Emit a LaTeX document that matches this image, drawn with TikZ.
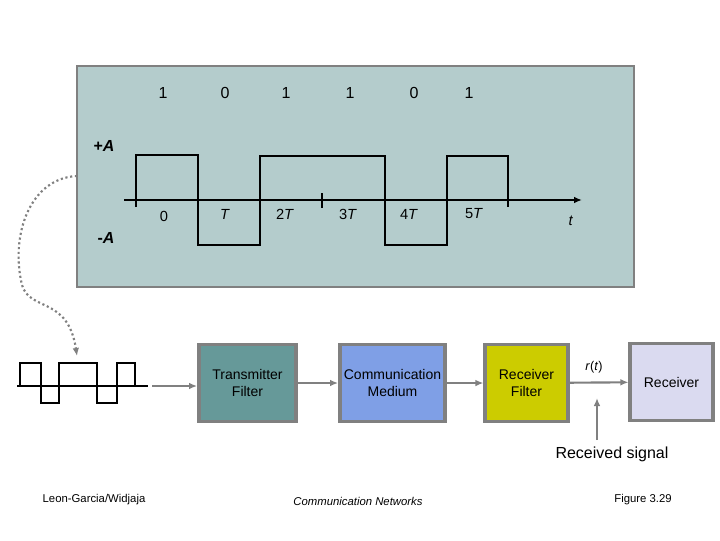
\documentclass[tikz,border=0pt]{standalone}
\usepackage{fontspec}
\setmainfont{Liberation Sans}
\usepackage{tikz}
\usetikzlibrary{arrows.meta}

\definecolor{panelfill}{RGB}{180,204,204}
\definecolor{txfill}{RGB}{102,153,153}
\definecolor{medfill}{RGB}{127,159,230}
\definecolor{rxffill}{RGB}{204,204,0}
\definecolor{rxfill}{RGB}{218,218,240}
\definecolor{linegray}{RGB}{128,128,128}

\begin{document}
\begin{tikzpicture}[
  x=0.75pt,y=-0.75pt,
  line cap=butt,
  line join=miter,
  >={Latex[length=6pt,width=5pt]},
  wave/.style={draw=black,line width=2.2pt},
  conn/.style={draw=linegray,line width=1.6pt,->},
  blk/.style={draw=linegray,line width=2.6pt,minimum height=58pt,
    align=center,inner sep=0pt,font=\fontsize{10.5}{13}\selectfont},
  bit/.style={font=\fontsize{12}{14}\selectfont},
  tlab/.style={font=\fontsize{11}{13}\selectfont},
  foot/.style={font=\fontsize{8.5}{10}\selectfont}
]
\useasboundingbox (0,0) rectangle (720,540);

% upper panel
\draw[draw=linegray,line width=1.4pt,fill=panelfill] (77,66) rectangle (634,287);

% bit values
\foreach \x/\b in {163/1,225/0,286/1,350/1,414/0,469/1}
  \node[bit] (b\x) at (\x,93) {\b};

\node[bit] (pa) at (104,146) {\textbf{+\textit{A}}};
\node[bit] (ma) at (106,238) {\textbf{-\textit{A}}};

% time axis
\coordinate (ax0) at (124,200);
\coordinate (ax1) at (582,200);
\draw[wave,->] (ax0) -- (ax1);
\draw[wave] (322,193) -- (322,208);

% polar NRZ signal
\draw[wave]
  (136,207) -- (136,155) -- (198,155) -- (198,245) -- (260,245)
  -- (260,156) -- (385,156) -- (385,245) -- (447,245)
  -- (447,156) -- (508,156) -- (508,207);

\node[tlab] (t0) at (164,216) {0};
\foreach \x/\l in {225/\textit{T},285/2\textit{T},348/3\textit{T},409/4\textit{T},474/5\textit{T}}
  \node[tlab] (t\x) at (\x,214) {\l};
\node[tlab] (tt) at (571,221) {\textit{t}};

% small copy of the signal
\draw[wave] (17,386) -- (148,386);
\draw[wave]
  (20,386) -- (20,363) -- (41,363) -- (41,403) -- (59,403)
  -- (59,363) -- (97,363) -- (97,403) -- (117,403)
  -- (117,363) -- (135,363) -- (135,386);
\coordinate (wend) at (152,386);

% dotted link from panel to small signal
\coordinate (lnk0) at (77,176);
\coordinate (lnk1) at (77,356);
\draw[draw=linegray,line width=1.6pt,dotted,->]
  (lnk0) .. controls (30,178) and (10,235) .. (22,285)
         .. controls (30,312) and (68,296) .. (lnk1);

% blocks
\node[blk,fill=txfill,minimum width=73pt] (tx) at (247.5,383) {Transmitter\\Filter};
\node[blk,fill=medfill,minimum width=79pt] (med) at (392.5,383) {Communication\\Medium};
\node[blk,fill=rxffill,minimum width=62pt] (rxf) at (526.5,383) {Receiver\\Filter};
\node[blk,fill=rxfill,minimum width=62pt] (rx) at (671.5,382) {Receiver};

\draw[conn] (wend) -- (wend -| tx.west);
\draw[conn] (tx) -- (med);
\draw[conn] (med) -- (rxf);
\draw[conn] (rxf) -- (rx);

\node[font=\fontsize{9.5}{11}\selectfont] (rt) at (594,367) {\textit{r}(\textit{t})};

\node[font=\fontsize{12}{14}\selectfont] (rsig) at (612,454) {Received signal};
\coordinate (rs0) at (597,440);
\coordinate (rs1) at (597,398);
\draw[conn] (rs0) -- (rs1);

% footer
\node[foot] (f1) at (94,500) {Leon-Garcia/Widjaja};
\node[foot] (f2) at (358,501) {\textit{Communication Networks}};
\node[foot] (f3) at (643,500) {Figure 3.29};

\end{tikzpicture}
\end{document}
